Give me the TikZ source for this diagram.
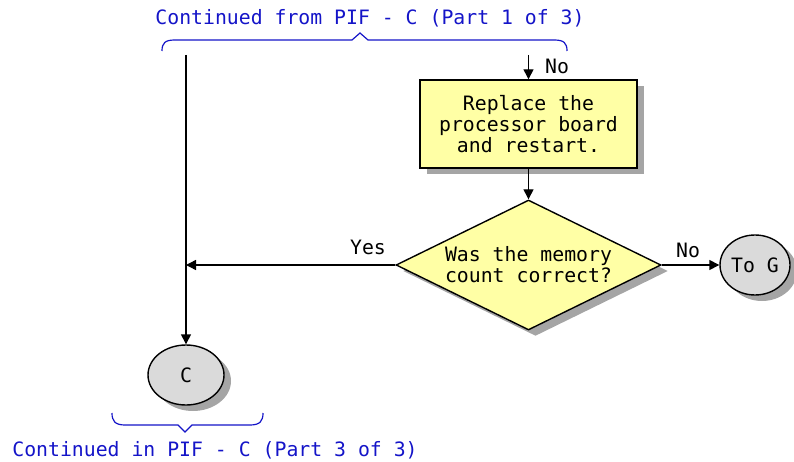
\documentclass[tikz,border=0pt]{standalone}
\usepackage{fontspec}
\setmonofont{DejaVu Sans Mono}
\usetikzlibrary{shapes.geometric,arrows.meta,shadows}
\definecolor{bluec}{RGB}{20,20,200}
\definecolor{boxyellow}{RGB}{255,255,165}
\definecolor{stipgray}{RGB}{218,218,218}
\definecolor{shad}{RGB}{165,165,165}
\begin{document}
\begin{tikzpicture}[x=1pt,y=-1pt,
  every node/.style={font=\ttfamily\fontsize{19.8}{21}\selectfont, inner sep=0pt},
  conn/.style={line width=1.4pt,-{Triangle[length=10pt,width=10pt]}},
  plain/.style={line width=1.4pt},
  shad/.style={drop shadow={shadow xshift=7pt,shadow yshift=-6pt,fill=shad,opacity=1}},
  procbox/.style={draw,line width=1.4pt,fill=boxyellow,minimum width=217pt,minimum height=88pt,align=center,shad},
  decbox/.style={diamond,draw,line width=1.4pt,fill=boxyellow,minimum width=265pt,minimum height=130pt,aspect=2,align=center,shad},
  conncirc/.style={ellipse,draw,line width=1.4pt,fill=stipgray,shad},
  brace/.style={bluec,line width=1.2pt},
  bluelabel/.style={text=bluec}]
\useasboundingbox (0,0) rectangle (794,462);

\node[bluelabel] (title) at (370,18) {Continued from PIF - C (Part 1 of 3)};
\node[bluelabel] (foot) at (215,450) {Continued in PIF - C (Part 3 of 3)};

\draw[brace] (162,51) .. controls (162,43) and (165,40) .. (175,40) -- (352,40) -- (360,33) -- (368,40) -- (554,40) .. controls (564,40) and (567,43) .. (567,51);
\draw[brace] (112,413) .. controls (112,421) and (115,425) .. (125,425) -- (178,425) -- (185,432) -- (192,425) -- (250,425) .. controls (260,425) and (263,421) .. (263,413);

\node[procbox] (rep) at (528.5,124) {Replace the\\processor board\\and restart.};
\node[decbox] (dec) at (528.5,265) {Was the memory\\count correct?};
\node[conncirc,minimum width=70pt,minimum height=60pt] (tog) at (755,265) {To G};
\node[conncirc,minimum width=76pt,minimum height=60pt] (c) at (186,375) {C};

\coordinate (ltop) at (186,55);
\coordinate (rtop) at (528.5,55);
\coordinate (j) at (186,265);

\draw[conn] (rtop) -- (rep.north);
\node (no1) at (557,66) {No};
\draw[conn] (rep.south) -- (dec.north);
\draw[plain] (ltop) -- (j);
\draw[conn] (j) -- (c.north);
\draw[conn] (dec.west) -- (j);
\node (yes) at (368,247) {Yes};
\draw[conn] (dec.east) -- (tog.west);
\node (no2) at (688,250) {No};
\end{tikzpicture}
\end{document}
